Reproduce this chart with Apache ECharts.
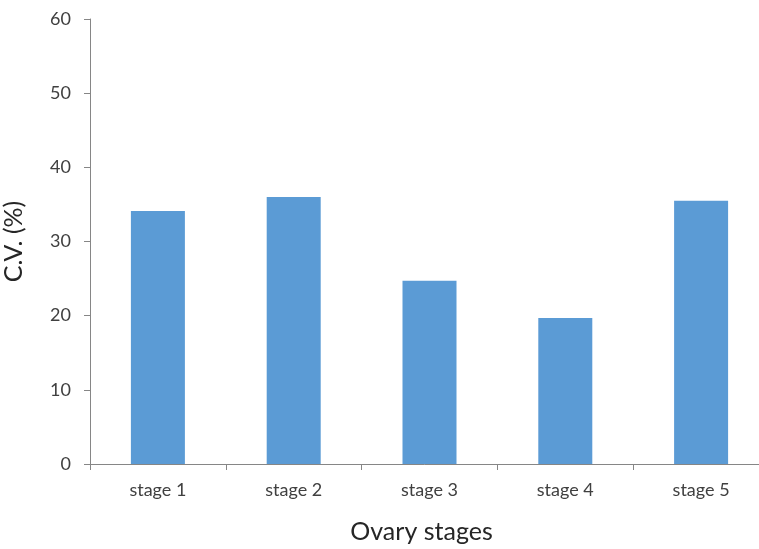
<!DOCTYPE html>
<html>
<head>
<meta charset="utf-8">
<script src="https://cdn.jsdelivr.net/npm/echarts@6/dist/echarts.min.js"></script>
<style>
html,body{margin:0;padding:0;background:#fff;}
#chart{width:759px;height:549px;}
</style>
</head>
<body>
<div id="chart"></div>
<script>
const categories = ['stage 1', 'stage 2', 'stage 3', 'stage 4', 'stage 5'];
const cvValues = [34.1, 36.0, 24.7, 19.7, 35.5];
const xTitle = 'Ovary stages';
const yTitle = 'C.V. (%)';

const chart = echarts.init(document.getElementById('chart'), null, {renderer: 'canvas'});
const font = 'Lato, "Liberation Sans", sans-serif';
chart.setOption({
  animation: false,
  backgroundColor: '#ffffff',
  grid: {left: 90, top: 19, right: -10, bottom: 85, containLabel: false, outerBoundsMode: 'none'},
  xAxis: {
    type: 'category',
    data: categories,
    name: xTitle,
    nameLocation: 'middle',
    nameGap: 55,
    nameTextStyle: {fontFamily: font, fontSize: 25, color: '#262626', padding: [0, 16, 0, 0]},
    axisLine: {lineStyle: {color: '#868686', width: 1}},
    axisTick: {show: true, alignWithLabel: false, length: 6, inside: false, lineStyle: {color: '#868686'}},
    axisLabel: {fontFamily: font, fontSize: 18, color: '#404040', margin: 17}
  },
  yAxis: {
    type: 'value',
    min: 0, max: 60, interval: 10,
    name: yTitle,
    nameLocation: 'middle',
    nameGap: 64,
    nameRotate: 90,
    nameTextStyle: {fontFamily: font, fontSize: 25, color: '#262626'},
    axisLine: {show: true, lineStyle: {color: '#868686', width: 1}},
    axisTick: {show: true, length: 6, lineStyle: {color: '#868686'}},
    splitLine: {show: false},
    axisLabel: {fontFamily: font, fontSize: 18, color: '#404040', margin: 19}
  },
  series: [{
    type: 'bar',
    data: cvValues,
    barWidth: 54,
    itemStyle: {color: '#5B9BD5'}
  }]
});
</script>
</body>
</html>
